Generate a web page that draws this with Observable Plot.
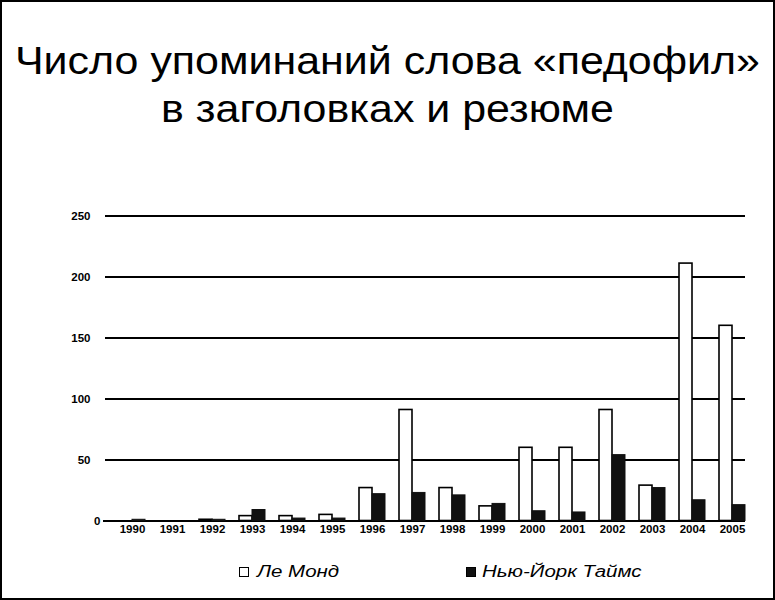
<!DOCTYPE html>
<html>
<head>
<meta charset="utf-8">
<script src="https://cdn.jsdelivr.net/npm/d3@7"></script>
<script src="https://cdn.jsdelivr.net/npm/@observablehq/plot@0.6"></script>
<style>
  html, body { margin: 0; padding: 0; background: #fff; }
  #wrap { position: relative; width: 775px; height: 600px; overflow: hidden; background: #fff; font-family: "Liberation Sans", Arial, sans-serif; }
  #frame { position: absolute; left: 0; top: 0; width: 775px; height: 600px; box-sizing: border-box; border: 2px solid #000; pointer-events: none; }
  .tline { position: absolute; left: 0; width: 775px; text-align: center; font-size: 38px; line-height: 46px; color: #000; white-space: nowrap; transform: scaleX(1.13); transform-origin: 387.5px 50%; }
  #chart { position: absolute; left: 0; top: 200px; }
  .leg { position: absolute; top: 561px; font-size: 16px; font-style: italic; line-height: 22px; color: #000; white-space: nowrap; transform: scaleX(1.28); transform-origin: 0 50%; }
  .sw { position: absolute; top: 567px; width: 8px; height: 8px; border: 1.5px solid #000; }
</style>
</head>
<body>
<div id="wrap">
  <div class="tline" style="top:38px">Число упоминаний слова «педофил»</div>
  <div class="tline" style="top:86px">в заголовках и резюме</div>
  <div id="chart"></div>
  <span class="sw" style="left:239px;background:#fff"></span>
  <div class="leg" style="left:257px">Ле Монд</div>
  <span class="sw" style="left:466px;background:#111"></span>
  <div class="leg" style="left:482px">Нью-Йорк Таймс</div>
  <div id="frame"></div>
</div>
<script>
const years = ["1990","1991","1992","1993","1994","1995","1996","1997","1998","1999","2000","2001","2002","2003","2004","2005"];
const leMonde = [0, 0, 1, 4, 4, 5, 27, 91, 27, 12, 60, 60, 91, 29, 211, 160];
const nyTimes = [1, 0, 1, 9, 2, 2, 22, 23, 21, 14, 8, 7, 54, 27, 17, 13];
const gridTicks = [50, 100, 150, 200, 250];
const zeroTick = [0];

const lm = years.map((y, i) => ({year: y, value: leMonde[i]}));
const ny = years.map((y, i) => ({year: y, value: nyTimes[i]}));

const W = 775, H = 345;
const chart = Plot.plot({
  width: W,
  height: H,
  marginLeft: 111,
  marginRight: 23,
  marginTop: 15.5,
  marginBottom: 24.5,
  style: {fontFamily: "'Liberation Sans', Arial, sans-serif", background: "transparent", color: "#000"},
  x: {domain: years, padding: 0, label: null},
  y: {domain: [0, 250], label: null},
  marks: [
    Plot.ruleY(gridTicks, {stroke: "#000", strokeWidth: 2, insetLeft: -6, insetRight: 7}),
    Plot.ruleY(zeroTick, {stroke: "#000", strokeWidth: 2, insetLeft: -8, insetRight: 7}),
    Plot.barY(lm.filter(d => d.value > 0), {x: "year", y: "value", fill: "#fff", stroke: "#000", strokeWidth: 1.6, insetLeft: 7, insetRight: 20}),
    Plot.barY(ny.filter(d => d.value > 0), {x: "year", y: "value", fill: "#111", stroke: "#111", strokeWidth: 1, insetLeft: 20, insetRight: 7}),
    Plot.axisY(gridTicks, {tickSize: 0, tickPadding: 21, fontSize: 11.5, fontWeight: "bold", label: null}),
    Plot.axisY(zeroTick, {tickSize: 0, tickPadding: 11, fontSize: 11.5, fontWeight: "bold", label: null}),
    Plot.axisX({tickSize: 0, tickPadding: 4, fontSize: 11.5, fontWeight: "bold", label: null})
  ]
});
document.getElementById("chart").appendChild(chart);
</script>
</body>
</html>
